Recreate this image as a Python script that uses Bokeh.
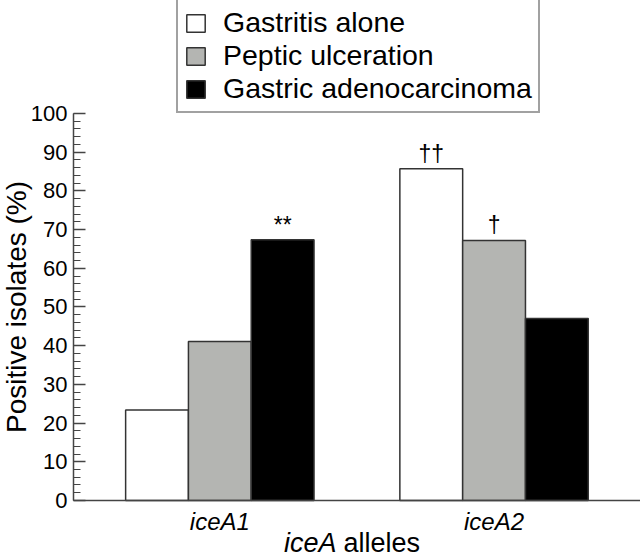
from bokeh.plotting import figure
from bokeh.models import (ColumnDataSource, Range1d, SingleIntervalTicker, FixedTicker,
                          Legend, LegendItem, Label)
from bokeh.transform import dodge
from bokeh.core.properties import value
from bokeh.embed import file_html
from bokeh.resources import INLINE

# ---- data ----
alleles = ["iceA1", "iceA2"]
allele_pos = [1, 2]
series_names = ["Gastritis alone", "Peptic ulceration", "Gastric adenocarcinoma"]
gastritis = [23.4, 85.7]
peptic = [41.1, 67.2]
adeno = [67.4, 47.0]
gastritis_sig = ["", "\u2020\u2020"]
peptic_sig = ["", "\u2020"]
adeno_sig = ["**", ""]
y_min, y_max, y_step = 0, 100, 10

FONT = "Liberation Sans"
colors = ["#ffffff", "#b4b5b2", "#000000"]
bar_w = 0.229
offsets = [-bar_w, 0.0, bar_w]
axis_x = 0.4665  # where the y axis sits on the x scale

p = figure(width=640, height=558, output_backend="svg", toolbar_location=None,
           x_range=Range1d(0.2002, 2.534), y_range=Range1d(-15.0, 129.2),
           min_border_left=0, min_border_right=0, min_border_top=0, min_border_bottom=0)
p.outline_line_color = None
p.xgrid.visible = False
p.ygrid.visible = False
p.background_fill_color = "white"
p.border_fill_color = "white"

renderers = []
for vals, sig, col, off in zip([gastritis, peptic, adeno],
                               [gastritis_sig, peptic_sig, adeno_sig], colors, offsets):
    src = ColumnDataSource(dict(x=allele_pos, top=vals, sig=sig))
    r = p.vbar(x=dodge("x", off), top="top", bottom=0, width=bar_w, source=src,
               fill_color=col, line_color="#333333", line_width=1.5)
    renderers.append(r)
    p.text(x=dodge("x", off), y="top", text="sig", source=src, text_align="center",
           text_baseline="alphabetic", y_offset=-15, text_font=value(FONT),
           text_font_size="23px", text_color="black")

# y axis
ya = p.yaxis[0]
ya.fixed_location = axis_x
ya.bounds = (y_min, y_max)
ya.ticker = SingleIntervalTicker(interval=y_step, num_minor_ticks=5)
ya.major_tick_in = 12
ya.major_tick_out = 0
ya.minor_tick_in = 7
ya.minor_tick_out = 0
ya.major_tick_line_color = "#444444"
ya.minor_tick_line_color = "#444444"
ya.axis_line_color = "#444444"
ya.axis_line_width = 1.5
ya.major_tick_line_width = 1.5
ya.minor_tick_line_width = 1.2
ya.major_label_text_font = FONT
ya.major_label_text_font_size = "22px"
ya.major_label_text_color = "black"
ya.major_label_standoff = 6
ya.axis_label = "Positive isolates (%)"
ya.axis_label_text_font = FONT
ya.axis_label_text_font_size = "28px"
ya.axis_label_text_font_style = "normal"
ya.axis_label_text_color = "black"
ya.axis_label_standoff = -4

# x axis
xa = p.xaxis[0]
xa.fixed_location = y_min
xa.bounds = (axis_x, 2.534)
xa.ticker = FixedTicker(ticks=allele_pos)
xa.major_label_overrides = {k: v for k, v in zip(allele_pos, alleles)}
xa.major_tick_in = 0
xa.major_tick_out = 0
xa.minor_tick_in = 0
xa.minor_tick_out = 0
xa.axis_line_color = "#444444"
xa.axis_line_width = 1.5
xa.major_label_text_font = FONT
xa.major_label_text_font_size = "24px"
xa.major_label_text_font_style = "italic"
xa.major_label_text_color = "black"
xa.major_label_standoff = 8

# x axis title with mixed styles
p.add_layout(Label(x=336, y=16, x_units="screen", y_units="screen", text="iceA",
                   text_align="right", text_baseline="alphabetic",
                   text_font=FONT, text_font_size="27px", text_font_style="italic",
                   text_color="black"))
p.add_layout(Label(x=343, y=16, x_units="screen", y_units="screen", text="alleles",
                   text_align="left", text_baseline="alphabetic",
                   text_font=FONT, text_font_size="27px", text_color="black"))

legend = Legend(items=[LegendItem(label=n, renderers=[r]) for n, r in zip(series_names, renderers)],
                location=(176, 445), orientation="vertical",
                glyph_width=23, glyph_height=22, label_standoff=16, spacing=0, padding=6,
                label_height=32,
                label_text_font=FONT, label_text_font_size="28.5px", label_text_color="black",
                border_line_color="#444444", border_line_width=2,
                background_fill_color="white", background_fill_alpha=1.0)
p.add_layout(legend)

open("out.html", "w").write(file_html(p, INLINE))
